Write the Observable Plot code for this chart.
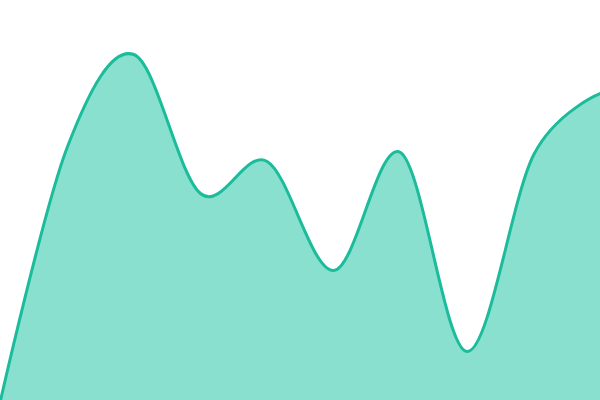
<!DOCTYPE html>
<html>
<head>
<meta charset="utf-8">
<script src="https://cdn.jsdelivr.net/npm/d3@7"></script>
<script src="https://cdn.jsdelivr.net/npm/@observablehq/plot@0.6"></script>
<style>
  html, body { margin: 0; padding: 0; background: #fff; }
  #chart svg { display: block; }
</style>
</head>
<body>
<div id="chart"></div>
<script>
const steps = [0, 1, 2, 3, 4, 5, 6, 7, 8, 9];
const values = [0, 253, 346, 207, 239, 130, 248, 49, 246, 307];

const data = steps.map((s, i) => ({step: s, value: values[i]}));

const chart = Plot.plot({
  width: 600,
  height: 400,
  margin: 0,
  x: {domain: [0, 9], axis: null},
  y: {domain: [0, 400], axis: null},
  marks: [
    Plot.areaY(data, {x: "step", y: "value", curve: "cardinal", fill: "#8ae0ce"}),
    Plot.lineY(data, {x: "step", y: "value", curve: "cardinal", stroke: "#1abc9c", strokeWidth: 3})
  ]
});
document.getElementById("chart").append(chart);
</script>
</body>
</html>
